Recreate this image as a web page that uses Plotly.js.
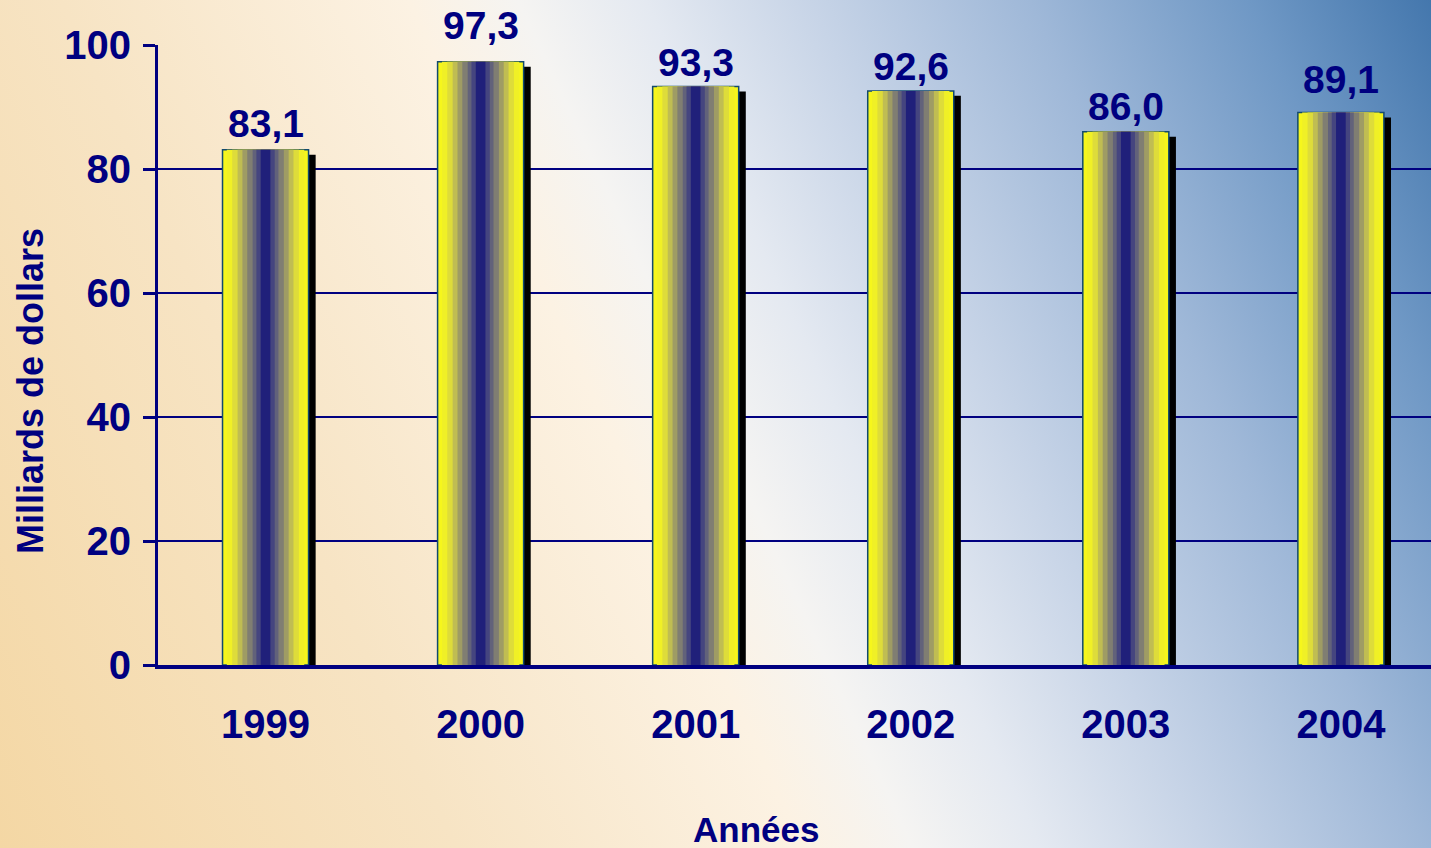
<!DOCTYPE html>
<html>
<head>
<meta charset="utf-8">
<script src="https://cdn.plot.ly/plotly-3.0.1.min.js"></script>
<style>
  html, body { margin: 0; padding: 0; width: 1431px; height: 848px; overflow: hidden; }
  body {
    background: linear-gradient(65deg, #f4d7a4 0%, #f7e4c4 25%, #fcf2e3 44%, #f5f4f2 50%, #e4e9f1 57%, #c7d4e7 66%, #9fb8d8 78%, #6f98c5 90%, #4477ad 100%);
  }
  #chart { width: 1431px; height: 848px; }
</style>
</head>
<body>
<div id="chart"></div>
<script>
// ---- data ----
const years = ['1999', '2000', '2001', '2002', '2003', '2004'];
const values = [83.1, 97.3, 93.3, 92.6, 86.0, 89.1];
const yTicks = [0, 20, 40, 60, 80, 100];
const xTitle = 'Années';
const yTitle = 'Milliards de dollars';

// ---- style ----
const NAVY = '#000080';
const FONT = 'Liberation Sans, Arial, sans-serif';
const BAR_W = 0.4;
const labelShift = [2, 12, 0, 0, 1, 9]; // pixel nudges of value labels
const bands = [
  [0.400, '#f6f61c'],
  [0.360, '#f0f026'],
  [0.310, '#dedc3a'],
  [0.260, '#c0bd52'],
  [0.215, '#9f9c64'],
  [0.170, '#807e72'],
  [0.120, '#62627a'],
  [0.085, '#45457f'],
  [0.045, '#20207a']
];

const traces = [];
// shadow
traces.push({
  type: 'bar', x: years, y: values, base: -0.8,
  width: BAR_W, offset: -BAR_W / 2 + 0.033,
  marker: { color: '#000000' }, hoverinfo: 'skip', showlegend: false
});
bands.forEach(function (b, i) {
  traces.push({
    type: 'bar', x: years, y: values, width: b[0],
    marker: { color: b[1], line: { width: i === 0 ? 1.5 : 0, color: '#124a6e' } },
    hoverinfo: 'skip', showlegend: false
  });
});

const boldFont = function (size) {
  return { family: FONT, size: size, color: NAVY, weight: 'bold' };
};

const annotations = values.map(function (v, i) {
  return {
    x: i, y: v, xref: 'x', yref: 'y',
    text: v.toFixed(1).replace('.', ','),
    showarrow: false, yanchor: 'bottom', yshift: 1 + labelShift[i],
    font: boldFont(39)
  };
});
annotations.push({
  xref: 'paper', yref: 'paper', x: 0.4698, y: -0.266,
  xanchor: 'center', yanchor: 'middle', showarrow: false,
  text: xTitle, font: boldFont(35)
});
annotations.push({
  xref: 'paper', yref: 'paper', x: 0, xshift: -127, y: 0.442,
  xanchor: 'center', yanchor: 'middle', showarrow: false, textangle: -90,
  text: yTitle, font: boldFont(36)
});

const layout = {
  width: 1431, height: 848,
  margin: { l: 158, r: 0, t: 45, b: 183 },
  paper_bgcolor: 'rgba(0,0,0,0)',
  plot_bgcolor: 'rgba(0,0,0,0)',
  barmode: 'overlay',
  showlegend: false,
  separators: ', ',
  font: boldFont(36),
  xaxis: {
    type: 'category', range: [-0.5, 5.419],
    showline: true, linecolor: NAVY, linewidth: 4,
    ticks: '', showgrid: false, zeroline: false,
    ticklabelstandoff: 21,
    tickfont: boldFont(40),
    automargin: false, fixedrange: true
  },
  yaxis: {
    range: [0, 100], tickvals: yTicks,
    showline: true, linecolor: NAVY, linewidth: 3,
    ticks: 'outside', ticklen: 12, tickwidth: 3, tickcolor: NAVY,
    showgrid: true, gridcolor: NAVY, gridwidth: 2, zeroline: false,
    ticklabelstandoff: 4,
    tickfont: boldFont(40),
    automargin: false, fixedrange: true
  },
  annotations: annotations
};

Plotly.newPlot('chart', traces, layout, { displayModeBar: false, staticPlot: true });
</script>
</body>
</html>
